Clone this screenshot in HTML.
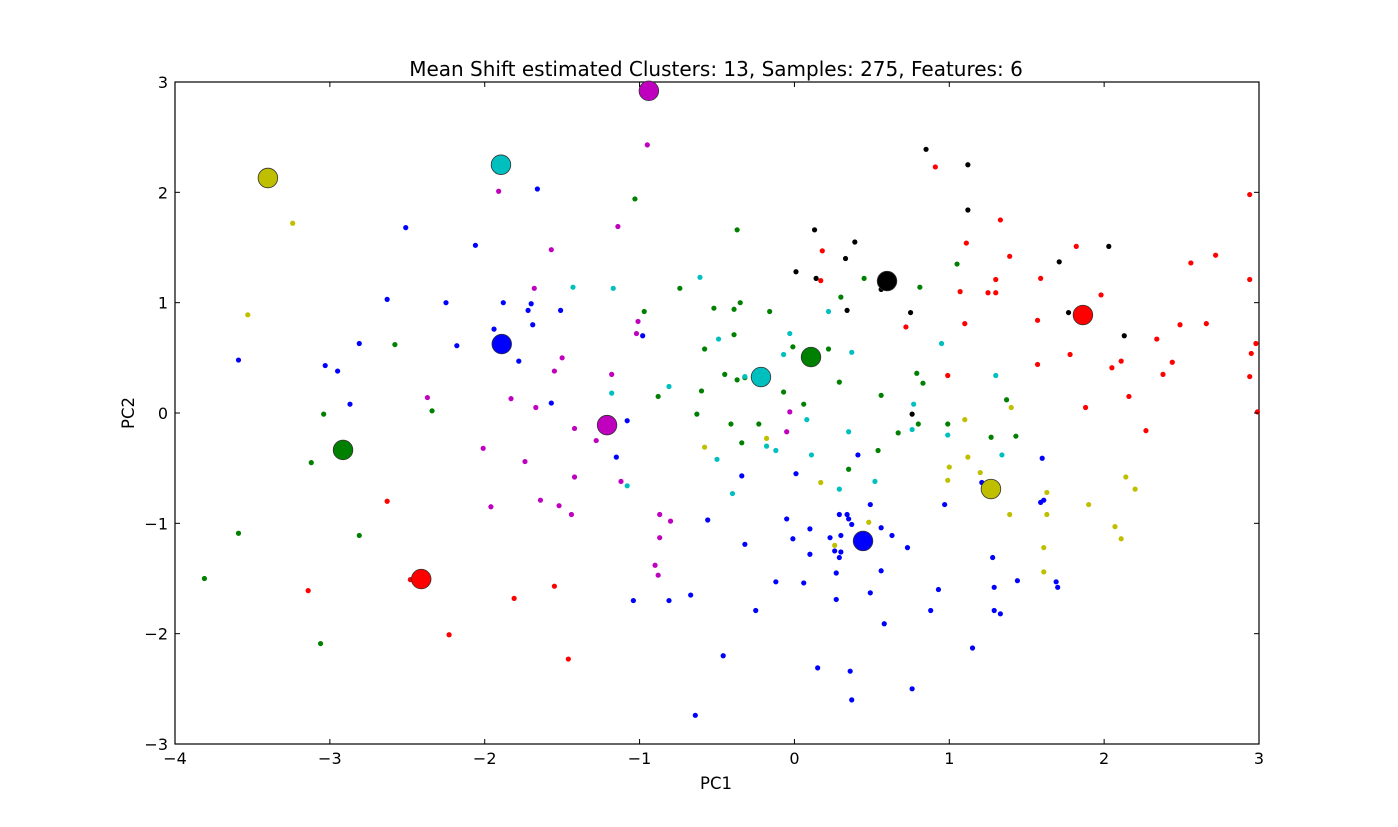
<!DOCTYPE html>
<html><head><meta charset="utf-8">
<style>
html,body{margin:0;padding:0;background:#fff;}
svg{display:block;font-family:"DejaVu Sans","Liberation Sans",sans-serif;}
</style></head>
<body>
<svg id="chart" width="1398" height="827" viewBox="0 0 1398 827" xmlns="http://www.w3.org/2000/svg">
<rect x="0" y="0" width="1398" height="827" fill="#ffffff"/>
<text x="716" y="76" text-anchor="middle" font-size="20" fill="#000">Mean Shift estimated Clusters: 13, Samples: 275, Features: 6</text>
<text x="716" y="789" text-anchor="middle" font-size="16.5" fill="#000">PC1</text>
<text x="134" y="413" text-anchor="middle" font-size="16.5" fill="#000" transform="rotate(-90 134 413)">PC2</text>
<g id="plot"></g>
</svg>
<script>
const xTicks = [-4,-3,-2,-1,0,1,2,3];
const yTicks = [-3,-2,-1,0,1,2,3];
const xTickLabels = ["\u22124","\u22123","\u22122","\u22121","0","1","2","3"];
const yTickLabels = ["\u22123","\u22122","\u22121","0","1","2","3"];

const redX = [0.91,1.33,1.11,0.18,0.17,1.59,1.82,1.39,1.25,1.07,1.10,1.30,1.30,0.72,0.99,1.57,1.57,1.78,1.98,2.05,2.11,2.16,1.88,2.27,2.34,2.38,2.44,2.49,2.56,2.66,2.72,2.94,2.94,2.95,2.98,2.94,2.99,-2.63,-3.14,-2.48,-2.23,-1.81,-1.55,-1.46];
const redY = [2.23,1.75,1.54,1.47,1.20,1.22,1.51,1.42,1.09,1.10,0.81,1.09,1.21,0.78,0.34,0.84,0.44,0.53,1.07,0.41,0.47,0.15,0.05,-0.16,0.67,0.35,0.46,0.80,1.36,0.81,1.43,1.98,1.21,0.54,0.63,0.33,0.01,-0.80,-1.61,-1.51,-2.01,-1.68,-1.57,-2.23];
const blackX = [0.85,1.12,1.12,0.13,0.39,0.33,0.01,0.14,1.71,2.03,1.77,2.13,0.34,0.75,0.76,0.56];
const blackY = [2.39,2.25,1.84,1.66,1.55,1.40,1.28,1.22,1.37,1.51,0.91,0.70,0.93,0.91,-0.01,1.12];
const yellowX = [-3.24,-3.53,-0.18,0.17,-0.58,0.48,1.10,1.12,1.00,0.99,1.20,1.39,1.40,1.63,1.63,1.61,1.61,1.90,2.14,2.20,2.07,2.11,0.26];
const yellowY = [1.72,0.89,-0.23,-0.63,-0.31,-0.99,-0.06,-0.40,-0.49,-0.61,-0.54,-0.92,0.05,-0.72,-0.92,-1.22,-1.44,-0.83,-0.58,-0.69,-1.03,-1.14,-1.20];
const cyanX = [-1.43,-1.17,-0.61,0.22,-0.49,-0.03,-0.07,0.37,0.95,-0.81,-0.32,-1.18,0.08,0.11,-0.18,-0.12,-0.50,-0.40,-1.08,0.35,0.52,0.76,0.77,0.99,1.30,1.34,0.29];
const cyanY = [1.14,1.13,1.23,0.92,0.67,0.72,0.53,0.55,0.63,0.24,0.33,0.18,-0.06,-0.38,-0.30,-0.34,-0.42,-0.73,-0.66,-0.17,-0.62,-0.15,0.08,-0.20,0.34,-0.38,-0.69];
const magentaX = [-0.95,-1.91,-1.14,-1.57,-1.68,-1.01,-1.02,-1.50,-1.55,-1.18,-2.37,-1.83,-1.67,-1.42,-1.28,-0.03,-0.05,-2.01,-1.74,-1.42,-1.12,-1.64,-1.96,-1.52,-1.44,-0.87,-0.80,-0.87,-0.90,-0.88];
const magentaY = [2.43,2.01,1.69,1.48,1.13,0.83,0.72,0.50,0.38,0.35,0.14,0.13,0.05,-0.14,-0.25,0.01,-0.17,-0.32,-0.44,-0.58,-0.62,-0.79,-0.85,-0.84,-0.92,-0.92,-0.98,-1.13,-1.38,-1.47];
const greenX = [-1.03,-0.37,-0.74,-0.97,-0.52,-0.35,-0.39,-0.39,-0.16,-0.58,0.45,0.30,0.22,-0.01,1.05,0.81,-0.60,-0.45,-0.37,-0.32,-0.07,0.06,0.29,0.56,0.79,0.83,-0.63,-0.88,-0.41,-0.23,-0.34,0.35,0.54,0.67,0.80,0.99,1.27,1.37,1.43,-2.58,-3.04,-2.34,-3.12,-2.81,-3.59,-3.81,-3.06];
const greenY = [1.94,1.66,1.13,0.92,0.95,1.00,0.94,0.71,0.92,0.58,1.22,1.05,0.58,0.60,1.35,1.14,0.20,0.35,0.30,0.32,0.19,0.08,0.28,0.16,0.36,0.27,-0.01,0.15,-0.10,-0.10,-0.27,-0.51,-0.34,-0.18,-0.10,-0.10,-0.22,0.12,-0.21,0.62,-0.01,0.02,-0.45,-1.11,-1.09,-1.50,-2.09];
const blueX = [-1.66,-2.51,-2.06,-2.63,-2.25,-1.88,-1.94,-1.70,-1.72,-1.69,-1.51,-2.18,-2.81,-3.59,-3.03,-2.95,-2.87,-1.78,-1.57,-1.08,-1.15,-0.98,-0.56,-0.34,-0.32,-1.04,-0.81,-0.67,-0.64,-0.46,-0.25,-0.12,-0.05,-0.01,0.01,0.06,0.10,0.10,0.15,0.23,0.26,0.27,0.27,0.29,0.29,0.30,0.30,0.34,0.35,0.36,0.37,0.37,0.41,0.49,0.49,0.56,0.56,0.58,0.63,0.73,0.76,0.88,0.93,0.97,1.15,1.21,1.28,1.29,1.29,1.33,1.44,1.60,1.59,1.61,1.69,1.70];
const blueY = [2.03,1.68,1.52,1.03,1.00,1.00,0.76,0.99,0.93,0.80,0.93,0.61,0.63,0.48,0.43,0.38,0.08,0.47,0.09,-0.07,-0.40,0.70,-0.97,-0.57,-1.19,-1.70,-1.70,-1.65,-2.74,-2.20,-1.79,-1.53,-0.96,-1.14,-0.55,-1.54,-1.05,-1.28,-2.31,-1.13,-1.25,-1.45,-1.69,-0.92,-1.31,-1.26,-1.11,-0.92,-0.96,-2.34,-2.60,-1.01,-0.38,-0.83,-1.63,-1.43,-1.04,-1.91,-1.11,-1.22,-2.50,-1.79,-1.60,-0.83,-2.13,-0.63,-1.31,-1.58,-1.79,-1.82,-1.52,-0.41,-0.81,-0.79,-1.53,-1.58];

const centerX = [-3.40,-1.895,-0.94,-1.89,-2.915,-1.21,-2.41,-0.216,0.107,0.598,1.863,1.269,0.443];
const centerY = [2.13,2.25,2.92,0.625,-0.335,-0.11,-1.505,0.326,0.507,1.196,0.888,-0.689,-1.16];
const centerColorNames = ["y","c","m","b","g","m","r","c","g","k","r","y","b"];

const COLORS = {b:"#0000ff",g:"#008000",r:"#ff0000",c:"#00bfbf",m:"#bf00bf",y:"#bfbf00",k:"#000000"};
const L=175,T=82,W=1084,H=662, XMIN=-4,XMAX=3,YMIN=-3,YMAX=3;
function sx(v){return L+(v-XMIN)/(XMAX-XMIN)*W;}
function sy(v){return T+(YMAX-v)/(YMAX-YMIN)*H;}
const NS="http://www.w3.org/2000/svg";
const plot=document.getElementById('plot');
function mk(tag,attrs){const e=document.createElementNS(NS,tag);for(const k in attrs)e.setAttribute(k,attrs[k]);return e;}

const frame=mk('rect',{x:L,y:T,width:W,height:H,fill:'none',stroke:'#000',"stroke-width":1.2});


plot.appendChild(frame);

const series=[
 {name:'blue',xs:blueX,ys:blueY,c:'b'},
 {name:'green',xs:greenX,ys:greenY,c:'g'},
 {name:'red',xs:redX,ys:redY,c:'r'},
 {name:'cyan',xs:cyanX,ys:cyanY,c:'c'},
 {name:'magenta',xs:magentaX,ys:magentaY,c:'m'},
 {name:'yellow',xs:yellowX,ys:yellowY,c:'y'},
 {name:'black',xs:blackX,ys:blackY,c:'k'}
];
series.forEach(s=>{
  const g=mk('g',{});
  
  
  for(let i=0;i<s.xs.length;i++){
    const p=mk('circle',{cx:sx(s.xs[i]),cy:sy(s.ys[i]),r:2.6,fill:COLORS[s.c]});
    
    
    g.appendChild(p);
  }
  plot.appendChild(g);
});
const cg=mk('g',{});


for(let i=0;i<centerX.length;i++){
  const p=mk('circle',{cx:sx(centerX[i]),cy:sy(centerY[i]),r:9.8,fill:COLORS[centerColorNames[i]],stroke:'#333',"stroke-width":0.8});
  
  
  cg.appendChild(p);
}
plot.appendChild(cg);

xTicks.forEach((v,i)=>{
  const x=sx(v);
  const t1=mk('line',{x1:x,y1:T+H,x2:x,y2:T+H-5,stroke:'#000',"stroke-width":1});
  
  
  plot.appendChild(t1);
  const t2=mk('line',{x1:x,y1:T,x2:x,y2:T+5,stroke:'#000',"stroke-width":1});
  
  
  plot.appendChild(t2);
  const lb=mk('text',{x:x,y:T+H+20,"text-anchor":"middle","font-size":16,fill:'#000'});
  lb.textContent=xTickLabels[i];
  
  
  plot.appendChild(lb);
});
yTicks.forEach((v,i)=>{
  const y=sy(v);
  const t1=mk('line',{x1:L,y1:y,x2:L+5,y2:y,stroke:'#000',"stroke-width":1});
  
  
  plot.appendChild(t1);
  const t2=mk('line',{x1:L+W,y1:y,x2:L+W-5,y2:y,stroke:'#000',"stroke-width":1});
  
  
  plot.appendChild(t2);
  const lb=mk('text',{x:L-7,y:y+6,"text-anchor":"end","font-size":16,fill:'#000'});
  lb.textContent=yTickLabels[i];
  
  
  plot.appendChild(lb);
});
</script>
</body></html>
